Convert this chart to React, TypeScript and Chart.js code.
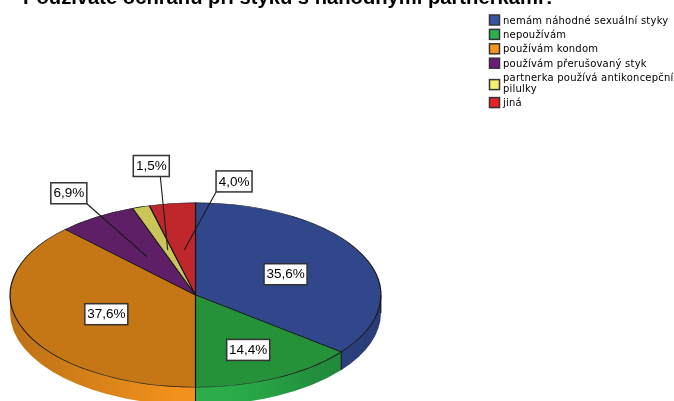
import React, { useEffect, useRef } from "react";
import { Chart, registerables } from "chart.js";

Chart.register(...registerables);

const titleText = "Používáte ochranu při styku s náhodnými partnerkami?";
const categories = [
  ["nemám náhodné sexuální styky"],
  ["nepoužívám"],
  ["používám kondom"],
  ["používám přerušovaný styk"],
  ["partnerka používá antikoncepční", "pilulky"],
  ["jiná"],
];
const shares = [35.6, 14.4, 37.6, 6.9, 1.5, 4.0];
const valueLabels = ["35,6%", "14,4%", "37,6%", "6,9%", "1,5%", "4,0%"];

const topColors = ["#31478b", "#25923a", "#c47714", "#5e1f66", "#c9c558", "#c0272d"];
const brightColors = ["#3953a4", "#2bb24c", "#f7941d", "#70197d", "#f7f06e", "#ed2024"];

// Label placement, in ellipse-radius units: [label radius, label angle shift (deg), leader end radius, leader x on box, leader y on box]
const labelLayout: (number[] | null)[] = [
  [0.54, 0, 0, 0, 0],
  [0.65, 0, 0, 0, 0],
  [0.52, 0, 0, 0, 0],
  [1.307, 0.7, 0.49, 1, 1],
  [1.43, 7.5, 0.51, 0.75, 1],
  [1.26, 16.7, 0.49, 0, 1],
];

const W = 674;
const H = 401;
const CENTER_X = 195.5;
const CENTER_Y = 295;
const SQUASH = 92 / 185;
const DEPTH = 18;

function arcGeom(el: any) {
  return el.getProps(["x", "y", "startAngle", "endAngle", "outerRadius"], true);
}

const piePlugin = {
  id: "tiltedPie",
  beforeDraw(chart: any) {
    const { ctx } = chart;
    ctx.save();
    ctx.fillStyle = "#ffffff";
    ctx.fillRect(0, 0, W, H);
    ctx.restore();
  },
  beforeDatasetsDraw(chart: any) {
    const { ctx } = chart;
    const arcs = chart.getDatasetMeta(0).data;
    const r = arcGeom(arcs[0]).outerRadius;
    const ry = r * SQUASH;
    // side wall
    arcs.forEach((el: any, i: number) => {
      const g = arcGeom(el);
      const a = Math.max(g.startAngle, 0);
      const b = Math.min(g.endAngle, Math.PI);
      if (b <= a) return;
      ctx.save();
      ctx.beginPath();
      ctx.ellipse(CENTER_X, CENTER_Y, r, ry, 0, a, b);
      ctx.lineTo(CENTER_X + r * Math.cos(b), CENTER_Y + ry * Math.sin(b) + DEPTH);
      ctx.ellipse(CENTER_X, CENTER_Y + DEPTH, r, ry, 0, b, a, true);
      ctx.closePath();
      const grad = ctx.createLinearGradient(CENTER_X - r, 0, CENTER_X + r, 0);
      ctx.fillStyle = brightColors[i];
      ctx.fill();
      grad.addColorStop(0, "rgba(0,0,0,0.24)");
      grad.addColorStop(0.45, "rgba(0,0,0,0.02)");
      grad.addColorStop(0.62, "rgba(0,0,0,0.04)");
      grad.addColorStop(0.82, "rgba(0,0,0,0.2)");
      grad.addColorStop(1, "rgba(0,0,0,0.28)");
      ctx.fillStyle = grad;
      ctx.fill();
      // slice edge on wall
      ctx.strokeStyle = "#101010";
      ctx.lineWidth = 1;
      ctx.beginPath();
      ctx.moveTo(CENTER_X + r * Math.cos(a), CENTER_Y + ry * Math.sin(a));
      ctx.lineTo(CENTER_X + r * Math.cos(a), CENTER_Y + ry * Math.sin(a) + DEPTH);
      ctx.stroke();
      ctx.restore();
    });
    // tilt the face that Chart.js draws next
    ctx.save();
    const g0 = arcGeom(arcs[0]);
    ctx.translate(CENTER_X, CENTER_Y);
    ctx.scale(1, SQUASH);
    ctx.translate(-g0.x, -g0.y);
  },
  afterDatasetsDraw(chart: any) {
    const { ctx } = chart;
    ctx.restore();
    const arcs = chart.getDatasetMeta(0).data;
    const r = arcGeom(arcs[0]).outerRadius;
    const ry = r * SQUASH;

    // title
    ctx.save();
    ctx.fillStyle = "#000000";
    ctx.font = 'bold 20.2px "Liberation Sans"';
    ctx.textBaseline = "alphabetic";
    ctx.textAlign = "left";
    ctx.fillText(titleText, 23, 4);
    ctx.restore();

    // legend
    ctx.save();
    let y = 14.5;
    categories.forEach((lines, i) => {
      const blockH = lines.length > 1 ? 25 : 14.4;
      const boxY = y + (lines.length > 1 ? 8 : 1);
      ctx.fillStyle = brightColors[i];
      ctx.strokeStyle = "#33333a";
      ctx.lineWidth = 1.5;
      ctx.fillRect(489.5, boxY - 0.5, 10, 10);
      ctx.strokeRect(489.5, boxY - 0.5, 10, 10);
      ctx.fillStyle = "#000000";
      ctx.font = '10px "DejaVu Sans"';
      ctx.letterSpacing = "0.22px";
      ctx.textBaseline = "middle";
      ctx.textAlign = "left";
      lines.forEach((t, k) => {
        ctx.fillText(t, 503, y + 6.5 + k * 10.5);
      });
      y += blockH;
    });
    ctx.restore();

    // value labels
    ctx.save();
    ctx.font = '13.5px "Liberation Sans"';
    ctx.textAlign = "center";
    ctx.textBaseline = "middle";
    arcs.forEach((el: any, i: number) => {
      const g = arcGeom(el);
      const layout = labelLayout[i]!;
      const mid = (g.startAngle + g.endAngle) / 2;
      const la = mid + (layout[1] * Math.PI) / 180;
      const lx = CENTER_X + layout[0] * r * Math.cos(la);
      const ly = CENTER_Y + layout[0] * ry * Math.sin(la) + 1;
      const bw = 36;
      const bh = 21;
      if (layout[2] > 0) {
        const ex = CENTER_X + layout[2] * r * Math.cos(mid);
        const ey = CENTER_Y + layout[2] * ry * Math.sin(mid);
        ctx.strokeStyle = "#1a1a1a";
        ctx.lineWidth = 1.1;
        ctx.beginPath();
        ctx.moveTo(lx - bw / 2 + layout[3] * bw, ly - bh / 2 + layout[4] * bh);
        ctx.lineTo(ex, ey);
        ctx.stroke();
      }
      const w = valueLabels[i].length > 4 ? 43 : bw;
      ctx.fillStyle = "#ffffff";
      ctx.fillRect(lx - w / 2, ly - bh / 2, w, bh);
      ctx.strokeStyle = "#333333";
      ctx.lineWidth = 1.5;
      ctx.strokeRect(lx - w / 2, ly - bh / 2, w, bh);
      ctx.fillStyle = "#000000";
      ctx.fillText(valueLabels[i], lx, ly + 0.5);
    });
    ctx.restore();
  },
};

export default function App() {
  const ref = useRef<HTMLCanvasElement>(null);
  useEffect(() => {
    const chart = new Chart(ref.current!, {
      type: "pie",
      data: {
        labels: categories.map((c) => c.join(" ")),
        datasets: [
          {
            data: shares,
            backgroundColor: topColors,
            borderColor: "#141414",
            borderWidth: 1.2,
            clip: false,
          } as any,
        ],
      },
      options: {
        responsive: false,
        animation: false,
        layout: { padding: { left: 9, right: 293, top: 14.5, bottom: 14.5 } },
        plugins: { legend: { display: false }, tooltip: { enabled: false } },
      },
      plugins: [piePlugin],
    });
    return () => chart.destroy();
  }, []);
  return (
    <div style={{ position: "fixed", left: 0, top: 0, width: W, height: H, overflow: "hidden" }}>
      <canvas ref={ref} width={W} height={H} style={{ display: "block", filter: "blur(0.55px)" }} />
    </div>
  );
}
